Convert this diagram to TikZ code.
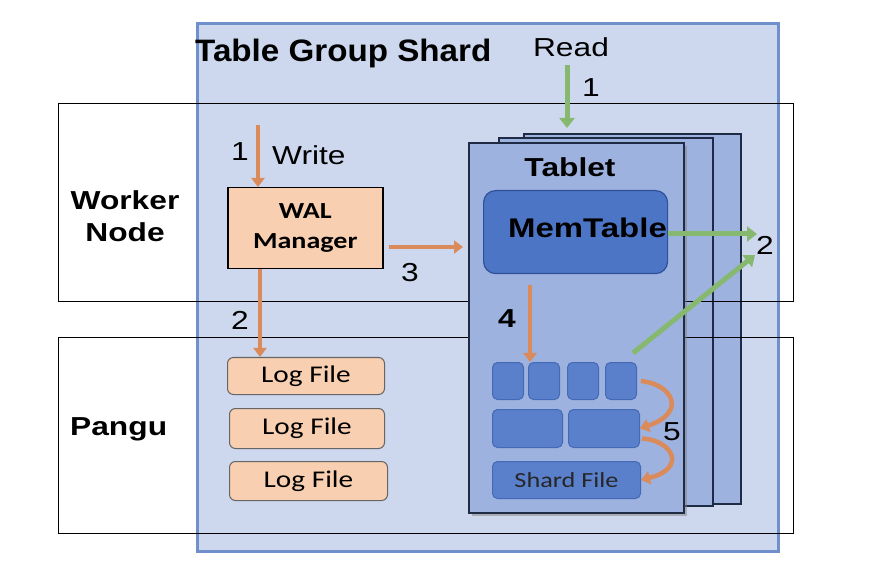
\documentclass[tikz,border=0pt]{standalone}
\usepackage{fontspec}
\setmainfont[FakeStretch=1.22]{Liberation Sans}
\newfontfamily\titlefont[FakeStretch=1.07]{Liberation Sans}
\newfontfamily\calfont[FakeStretch=1.22]{Carlito}
\usetikzlibrary{arrows.meta,shadows}
\definecolor{bgblue}{HTML}{CDD8EE}
\definecolor{bgborder}{HTML}{7090CC}
\definecolor{pagefill}{HTML}{9DB2DF}
\definecolor{pageborder}{HTML}{1F2A44}
\definecolor{memfill}{HTML}{4D75C6}
\definecolor{memborder}{HTML}{2F4F96}
\definecolor{cellfill}{HTML}{5A80CC}
\definecolor{cellborder}{HTML}{4469B5}
\definecolor{peach}{HTML}{F8CFB0}
\definecolor{orangearrow}{HTML}{DB8A5A}
\definecolor{greenarrow}{HTML}{86B96F}
\tikzset{
  region/.style={draw=black, line width=1.2pt},
  page/.style={draw=pageborder, line width=1.6pt, fill=pagefill},
  cell/.style={draw=cellborder, line width=1pt, fill=cellfill, rounded corners=5pt},
  logbox/.style={draw=black!60, line width=1pt, fill=peach, rounded corners=6pt, font=\calfont\fontsize{24}{26}\selectfont},
  oarrow/.style={draw=orangearrow, line width=4pt, -{Triangle[length=9pt,width=13pt]}},
  garrow/.style={draw=greenarrow, line width=5pt, -{Triangle[length=10pt,width=15pt]}},
  lbl/.style={font=\fontsize{26}{30}\selectfont, inner sep=0pt},
  blbl/.style={font=\bfseries\fontsize{26}{32}\selectfont, inner sep=0pt, align=center},
}
\begin{document}
\begin{tikzpicture}[x=1pt,y=-1pt]
\useasboundingbox (0,0) rectangle (879,572);
% region boxes (white base)
\fill[white] (58,103) rectangle (793,301);
\fill[white] (58,337) rectangle (793,533);
% table group shard
\node[draw=bgborder, fill=bgblue, line width=3pt, minimum width=581pt, minimum height=528pt, anchor=north west, inner sep=0pt] (tgs) at (196,22) {};
\node[anchor=base west, inner sep=0pt, font=\titlefont\bfseries\fontsize{31}{34}\selectfont] (tgslabel) at (195,62) {Table Group Shard};
% back pages
\node[page, anchor=north west, minimum width=217pt, minimum height=370pt, inner sep=0pt] (page3) at (523,133) {};
\node[page, anchor=north west, minimum width=214pt, minimum height=368pt, inner sep=0pt] (page2) at (498,137) {};
% region borders
\node[region, anchor=north west, minimum width=735pt, minimum height=198pt, inner sep=0pt] (worker) at (58,103) {};
\node[region, anchor=north west, minimum width=735pt, minimum height=196pt, inner sep=0pt] (pangu) at (58,337) {};
% front page
\node[page, anchor=north west, minimum width=215pt, minimum height=370pt, inner sep=0pt, drop shadow={shadow xshift=3pt, shadow yshift=-3pt, opacity=0.5}] (page1) at (468,142) {};
% labels
\node[blbl] (workerlabel) at (125,216) {Worker\\Node};
\node[blbl, anchor=base west] (pangulabel) at (70,435) {Pangu};
\node[lbl, anchor=base] (readlabel) at (571,57) {Read};
\node[blbl, anchor=base] (tabletlabel) at (570,177) {Tablet};
% MemTable
\node[draw=memborder, fill=memfill, line width=1.2pt, rounded corners=12pt, anchor=north west, minimum width=184pt, minimum height=83pt, inner sep=0pt] (mem) at (483,190) {};
\node[blbl, anchor=base west, font=\bfseries\fontsize{27}{30}\selectfont] (memlabel) at (508,238) {MemTable};
% cells
\node[cell, anchor=north west, minimum width=31pt, minimum height=37pt, inner sep=0pt] (c1) at (492,362) {};
\node[cell, anchor=north west, minimum width=31pt, minimum height=37pt, inner sep=0pt] (c2) at (528,362) {};
\node[cell, anchor=north west, minimum width=31pt, minimum height=37pt, inner sep=0pt] (c3) at (567,362) {};
\node[cell, anchor=north west, minimum width=31pt, minimum height=37pt, inner sep=0pt] (c4) at (605,362) {};
\node[cell, anchor=north west, minimum width=70pt, minimum height=38pt, inner sep=0pt] (d1) at (492,409) {};
\node[cell, anchor=north west, minimum width=71pt, minimum height=38pt, inner sep=0pt] (d2) at (568,409) {};
\node[cell, anchor=north west, minimum width=148pt, minimum height=37pt, inner sep=0pt, font=\calfont\fontsize{21.5}{24}\selectfont, text=black!85] (shard) at (492,461) {Shard File};
% WAL manager
\node[draw=black, line width=1.5pt, fill=peach, anchor=north west, minimum width=155pt, minimum height=81pt, inner sep=0pt, align=center, font=\calfont\bfseries\fontsize{23}{30}\selectfont] (wal) at (227,187) {WAL\\Manager};
% log files
\node[logbox, anchor=north west, minimum width=157pt, minimum height=37pt, inner sep=0pt] (log1) at (227,357) {Log File};
\node[logbox, anchor=north west, minimum width=155pt, minimum height=40pt, inner sep=0pt] (log2) at (229,408) {Log File};
\node[logbox, anchor=north west, minimum width=158pt, minimum height=39pt, inner sep=0pt] (log3) at (229,461) {Log File};
% coordinates
\coordinate (writestart) at (258,125);
\coordinate (readstart) at (567,65);
\coordinate (readend) at (567,128);
\coordinate (two) at (757,234);
\coordinate (twob) at (755,255);
\coordinate (diagstart) at (633,353);
\coordinate (memout) at (668,234);
% arrows
\draw[oarrow] (writestart) -- (wal.north -| writestart);
\node[lbl] (w1) at (240,152) {1};
\node[lbl, anchor=base west] (writelabel) at (272,165) {Write};
\draw[oarrow] (wal.east |- 0,247) ++(5,0) coordinate (a3s) -- (463,247) coordinate (a3e);
\node[lbl] (l3) at (410,273) {3};
\draw[oarrow] (wal.south -| 260,0) -- (log1.north -| 260,0) coordinate (a2e);
\node[lbl] (l2) at (240,320) {2};
\draw[garrow] (readstart) -- (readend);
\node[lbl] (r1) at (591,88) {1};
\draw[garrow] (memout) -- (two);
\draw[garrow] (diagstart) -- (twob);
\node[lbl] (g2) at (765,245) {2};
\draw[oarrow] (530,285) -- (c2.north -| 530,0);
\node[blbl] (l4) at (507,319) {4};
\draw[oarrow, line width=4.5pt] (c4.east) ++(4,0) .. controls (672,384) and (688,412) .. (d2.east);
\draw[oarrow, line width=4.5pt] (d2.east) ++(2,10) .. controls (672,440) and (688,468) .. (shard.east);
\node[lbl] (l5) at (672,432) {5};
\end{tikzpicture}
\end{document}
